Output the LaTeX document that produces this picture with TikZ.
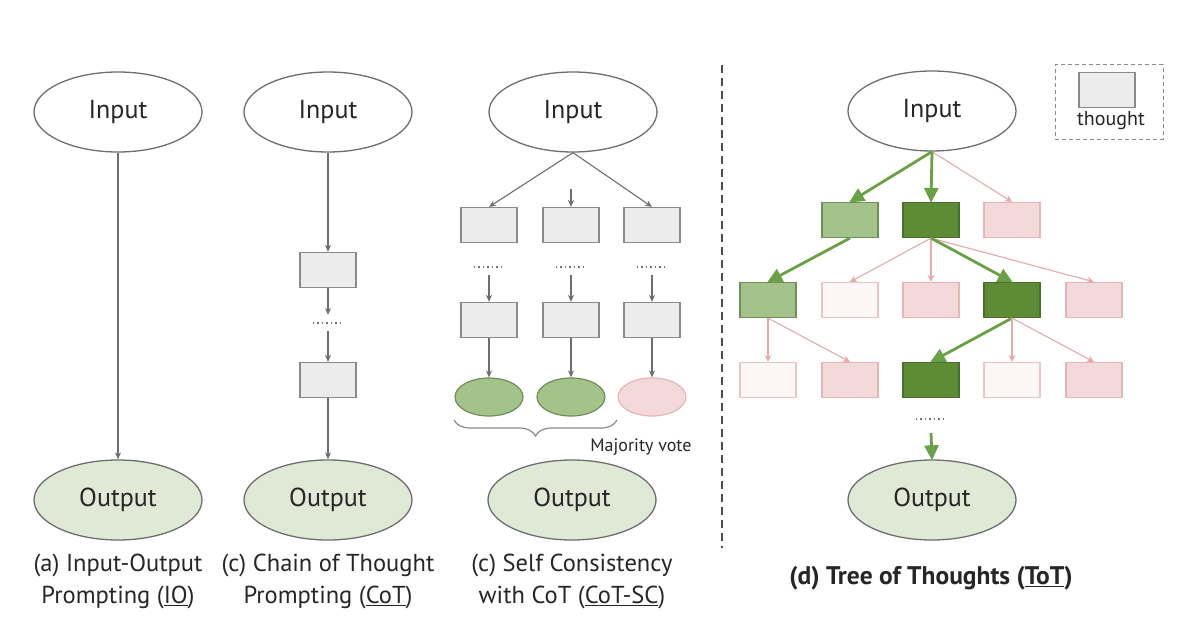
\documentclass[tikz,border=0pt]{standalone}
\usepackage{fontspec}
\setmainfont{PT Sans}
\usetikzlibrary{arrows.meta,decorations.pathreplacing,shapes.geometric}
\definecolor{edgegray}{HTML}{6E6E6E}
\definecolor{txtgray}{HTML}{262626}
\definecolor{outfill}{HTML}{DFE9D6}
\definecolor{boxfill}{HTML}{ECECEC}
\definecolor{boxline}{HTML}{8A8A8A}
\definecolor{lgfill}{HTML}{A3C38B}
\definecolor{lgline}{HTML}{6F8F5A}
\definecolor{dgfill}{HTML}{5E8B36}
\definecolor{dgline}{HTML}{4A6E2C}
\definecolor{pkfill}{HTML}{F3D9D9}
\definecolor{pkline}{HTML}{E8B5B5}
\definecolor{wpfill}{HTML}{FCF6F6}
\definecolor{wpline}{HTML}{EBC4C4}
\definecolor{garrowc}{HTML}{6AA147}
\definecolor{parrowc}{HTML}{E6AAAA}
\begin{document}
\begin{tikzpicture}[x=1pt,y=-1pt,
  ell/.style={ellipse, draw=edgegray, line width=1.3pt, minimum width=168pt, minimum height=80pt, inner sep=0pt, font=\fontsize{26}{30}\selectfont, text=txtgray},
  inell/.style={ell, fill=white},
  outell/.style={ell, fill=outfill},
  tbox/.style={rectangle, draw=boxline, fill=boxfill, line width=1.2pt, minimum width=56pt, minimum height=35pt, inner sep=0pt},
  lgbox/.style={tbox, draw=lgline, fill=lgfill},
  dgbox/.style={tbox, draw=dgline, fill=dgfill},
  pkbox/.style={tbox, draw=pkline, fill=pkfill},
  wpbox/.style={tbox, draw=wpline, fill=wpfill},
  smell/.style={ellipse, line width=1.2pt, minimum width=68pt, minimum height=38pt, inner sep=0pt},
  dotsnode/.style={minimum width=30pt, minimum height=16pt, inner sep=0pt},
  dotline/.style={draw=edgegray, line width=1.5pt, dash pattern=on 1.5pt off 3pt},
  gar/.style={draw=edgegray, line width=1.1pt, -{Stealth[length=7pt,width=6pt]}},
  grn/.style={draw=garrowc, line width=2.8pt, -{Triangle[length=15pt,width=14pt]}, shorten >=-1pt},
  pnk/.style={draw=parrowc, line width=1.1pt, -{Stealth[length=7pt,width=7pt]}},
  captxt/.style={font=\fontsize{24.5}{32}\selectfont, text=txtgray, align=center}
]
\useasboundingbox (0,0) rectangle (1200,634);
\fill[white] (0,0) rectangle (1200,634);

% ---------- (a) IO ----------
\node[inell] (ia) at (118,112) {Input};
\node[outell] (oa) at (118,500) {Output};
\draw[gar] (ia) -- (oa);
\node[captxt] (capa) at (118,581) {(a) Input-Output\\Prompting (\underline{IO})};

% ---------- (b) CoT ----------
\node[inell] (ib) at (328,112) {Input};
\node[tbox] (b1) at (328,270) {};
\node[dotsnode] (bd) at (328,323) {};
\draw[dotline] (bd.west) -- (bd.east);
\node[tbox] (b2) at (328,380) {};
\node[outell] (ob) at (328,500) {Output};
\draw[gar] (ib) -- (b1);
\draw[gar] (b1) -- (bd);
\draw[gar] (bd) -- (b2);
\draw[gar] (b2) -- (ob);
\node[captxt] (capb) at (328,581) {(c) Chain of Thought\\Prompting (\underline{CoT})};

% ---------- (c) CoT-SC ----------
\node[inell] (ic) at (573,112) {Input};
\node[tbox] (c11) at (489,225) {};
\node[tbox] (c12) at (571,225) {};
\node[tbox] (c13) at (652,225) {};
\coordinate (c12in) at (571,189);
\draw[gar] (ic.south) -- (c11.north);
\draw[gar] (c12in) -- (c12.north);
\draw[gar] (ic.south) -- (c13.north);
\node[dotsnode] (c1d) at (489,267) {};
\node[dotsnode] (c2d) at (571,267) {};
\node[dotsnode] (c3d) at (652,267) {};
\draw[dotline] (c1d.west) -- (c1d.east);
\draw[dotline] (c2d.west) -- (c2d.east);
\draw[dotline] (c3d.west) -- (c3d.east);
\node[tbox] (c21) at (489,320) {};
\node[tbox] (c22) at (571,320) {};
\node[tbox] (c23) at (652,320) {};
\draw[gar] (c1d) -- (c21);
\draw[gar] (c2d) -- (c22);
\draw[gar] (c3d) -- (c23);
\node[smell, draw=lgline, fill=lgfill] (e1) at (489,397) {};
\node[smell, draw=lgline, fill=lgfill] (e2) at (571,397) {};
\node[smell, draw=pkline, fill=pkfill] (e3) at (652,397) {};
\draw[gar] (c21) -- (e1);
\draw[gar] (c22) -- (e2);
\draw[gar] (c23) -- (e3);
\draw[draw=boxline, line width=1.2pt, decorate, decoration={brace, mirror, amplitude=16pt}] (454,420) -- (617,420);
\node[font=\fontsize{18}{20}\selectfont, text=txtgray] (mv) at (641,447) {Majority vote};
\node[outell] (oc) at (572,500) {Output};
\node[captxt] (capc) at (572,581) {(c) Self Consistency\\with CoT (\underline{CoT-SC})};

% ---------- divider ----------
\coordinate (dv1) at (722,65);
\coordinate (dv2) at (722,548);
\draw[draw=edgegray!70!black, line width=2.4pt, dash pattern=on 8pt off 5pt] (dv1) -- (dv2);

% ---------- legend ----------
\node[draw=boxline, line width=1pt, dash pattern=on 4pt off 3pt, minimum width=108pt, minimum height=74pt, inner sep=0pt] (leg) at (1109,102) {};
\node[tbox] (legbox) at (1107,90) {};
\node[font=\fontsize{20}{22}\selectfont, text=txtgray] (legtxt) at (1111,121) {thought};

% ---------- (d) ToT ----------
\node[inell] (id) at (932,111) {Input};
\node[lgbox] (t11) at (850,220) {};
\node[dgbox] (t12) at (931,220) {};
\node[pkbox] (t13) at (1012,220) {};
\node[lgbox] (t21) at (768,300) {};
\node[wpbox] (t22) at (850,300) {};
\node[pkbox] (t23) at (931,300) {};
\node[dgbox] (t24) at (1012,300) {};
\node[pkbox] (t25) at (1094,300) {};
\node[wpbox] (t31) at (768,380) {};
\node[pkbox] (t32) at (850,380) {};
\node[dgbox] (t33) at (931,380) {};
\node[wpbox] (t34) at (1012,380) {};
\node[pkbox] (t35) at (1094,380) {};

\draw[pnk] (id.south) -- (t13.north);
\draw[grn] (id.south) -- (t11.north);
\draw[grn] (id.south) -- (t12.north);

\draw[grn] (t11.south) -- (t21.north);
\draw[pnk] (t12.south) -- (t22.north);
\draw[pnk] (t12.south) -- (t23.north);
\draw[pnk] (t12.south) -- (t25.north);
\draw[grn] (t12.south) -- (t24.north);

\draw[pnk] (t21.south) -- (t31.north);
\draw[pnk] (t21.south) -- (t32.north);
\draw[grn] (t24.south) -- (t33.north);
\draw[pnk] (t24.south) -- (t34.north);
\draw[pnk] (t24.south) -- (t35.north);

\node[dotsnode, minimum height=14pt] (td) at (931,419) {};
\draw[dotline] (td.west) -- (td.east);
\node[outell] (od) at (932,500) {Output};
\coordinate (tdb) at (931,433);
\draw[grn] (tdb) -- (od.north);
\node[captxt, font=\bfseries\fontsize{25.5}{28}\selectfont] (capd) at (931,578) {(d) Tree of Thoughts (\underline{ToT})};
\end{tikzpicture}
\end{document}
